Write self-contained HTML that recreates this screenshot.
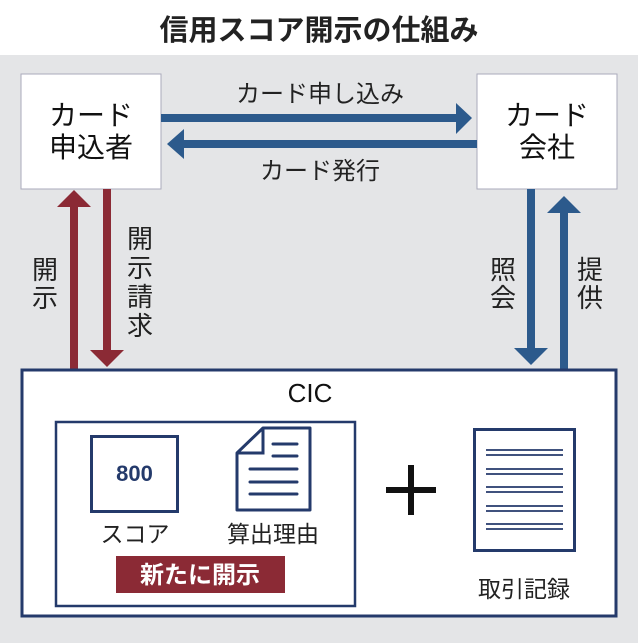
<!DOCTYPE html>
<html><head><meta charset="utf-8"><style>
body{margin:0;width:638px;height:638px;overflow:hidden;background:#e4e5e7}
svg text{font-family:"Liberation Sans","Noto Sans CJK JP",sans-serif}
</style></head><body>
<svg width="638" height="638" viewBox="0 0 638 638" xmlns="http://www.w3.org/2000/svg">
<rect x="0" y="0" width="638" height="55" fill="#fff"/>
<rect x="0" y="55" width="638" height="583" fill="#e4e5e7"/>
<text x="319" y="40" font-size="29" font-weight="bold" text-anchor="middle" fill="#222">信用スコア開示の仕組み</text>

<rect x="21" y="74" width="140" height="115" fill="#fff" stroke="#aab" stroke-width="1"/>
<rect x="477" y="74" width="140" height="115" fill="#fff" stroke="#aab" stroke-width="1"/>
<text x="91" y="125" font-size="28" text-anchor="middle" fill="#111">カード</text>
<text x="91" y="157" font-size="28" text-anchor="middle" fill="#111">申込者</text>
<text x="547" y="125" font-size="28" text-anchor="middle" fill="#111">カード</text>
<text x="547" y="157" font-size="28" text-anchor="middle" fill="#111">会社</text>

<rect x="161" y="114" width="297" height="8" fill="#2c5a8c"/>
<polygon points="456,103 472,118 456,134" fill="#2c5a8c"/>
<rect x="182" y="140" width="295" height="8" fill="#2c5a8c"/>
<polygon points="184,129 167,144 184,159" fill="#2c5a8c"/>
<text x="320" y="102" font-size="24" text-anchor="middle" fill="#222">カード申し込み</text>
<text x="320" y="179" font-size="24" text-anchor="middle" fill="#222">カード発行</text>

<rect x="70" y="205" width="8" height="165" fill="#8b2a35"/>
<polygon points="57,207 74,190 91,207" fill="#8b2a35"/>
<rect x="103" y="189" width="8" height="162" fill="#8b2a35"/>
<polygon points="90,350 107,367 124,350" fill="#8b2a35"/>
<text x="45" y="279" font-size="26" text-anchor="middle" fill="#222">開</text>
<text x="45" y="307" font-size="26" text-anchor="middle" fill="#222">示</text>
<text x="140" y="248" font-size="26" text-anchor="middle" fill="#222">開</text>
<text x="140" y="277" font-size="26" text-anchor="middle" fill="#222">示</text>
<text x="140" y="306" font-size="26" text-anchor="middle" fill="#222">請</text>
<text x="140" y="335" font-size="26" text-anchor="middle" fill="#222">求</text>

<rect x="527" y="189" width="8" height="160" fill="#2c5a8c"/>
<polygon points="514,348 531,365 548,348" fill="#2c5a8c"/>
<rect x="560" y="212" width="8" height="158" fill="#2c5a8c"/>
<polygon points="547,213 564,196 581,213" fill="#2c5a8c"/>
<text x="503" y="279" font-size="26" text-anchor="middle" fill="#222">照</text>
<text x="503" y="307" font-size="26" text-anchor="middle" fill="#222">会</text>
<text x="590" y="279" font-size="26" text-anchor="middle" fill="#222">提</text>
<text x="590" y="307" font-size="26" text-anchor="middle" fill="#222">供</text>

<rect x="22" y="370" width="594" height="246" fill="#fff" stroke="#243a6b" stroke-width="3"/>
<text x="310" y="402" font-size="26" text-anchor="middle" fill="#111">CIC</text>
<rect x="56" y="422" width="299" height="184" fill="#fff" stroke="#243a6b" stroke-width="2.5"/>

<rect x="91.5" y="436.5" width="86" height="75" fill="#fff" stroke="#243a6b" stroke-width="3"/>
<text x="134.5" y="481" font-size="22" font-weight="bold" text-anchor="middle" fill="#243a6b">800</text>

<polygon points="263,428 310,428 310,510 237,510 237,453" fill="#fff" stroke="#243a6b" stroke-width="3" stroke-linejoin="round"/>
<polyline points="263,428 263,453 237,453" fill="none" stroke="#243a6b" stroke-width="3"/>
<g stroke="#243a6b" stroke-width="3" stroke-linecap="round">
<line x1="273" y1="444" x2="297" y2="444"/>
<line x1="273" y1="456" x2="297" y2="456"/>
<line x1="250" y1="469" x2="297" y2="469"/>
<line x1="250" y1="482" x2="297" y2="482"/>
<line x1="250" y1="494" x2="297" y2="494"/>
</g>
<text x="135" y="542" font-size="23" text-anchor="middle" fill="#222">スコア</text>
<text x="273" y="542" font-size="23" text-anchor="middle" fill="#222">算出理由</text>
<rect x="116" y="556" width="169" height="37" fill="#8b2a35"/>
<text x="200" y="583" font-size="24" font-weight="bold" text-anchor="middle" fill="#fff">新たに開示</text>

<rect x="408" y="465" width="6" height="50" fill="#111"/>
<rect x="386" y="487" width="50" height="6" fill="#111"/>

<rect x="474.5" y="429.5" width="100" height="121" fill="#fff" stroke="#243a6b" stroke-width="3"/>
<g stroke="#243a6b" stroke-width="1.8">
<line x1="486" y1="450" x2="563" y2="450"/><line x1="486" y1="455" x2="563" y2="455"/>
<line x1="486" y1="469" x2="563" y2="469"/><line x1="486" y1="474" x2="563" y2="474"/>
<line x1="486" y1="487" x2="563" y2="487"/><line x1="486" y1="492" x2="563" y2="492"/>
<line x1="486" y1="506" x2="563" y2="506"/><line x1="486" y1="511" x2="563" y2="511"/>
<line x1="486" y1="524" x2="563" y2="524"/><line x1="486" y1="529" x2="563" y2="529"/>
</g>
<text x="524" y="597" font-size="23" text-anchor="middle" fill="#222">取引記録</text>
</svg>
</body></html>
